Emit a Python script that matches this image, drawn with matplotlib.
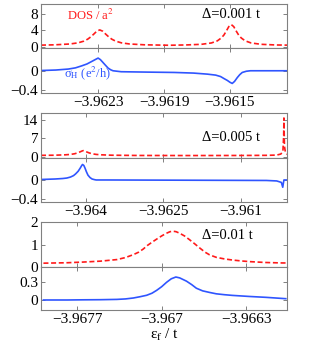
import matplotlib
matplotlib.use('Agg')
import matplotlib.pyplot as plt

plt.rcParams.update({
    'font.family': 'Liberation Serif',
    'mathtext.fontset': 'stix',
    'font.size': 11,
    'xtick.direction': 'in',
    'ytick.direction': 'in',
})

RED = "#ff1a1a"
BLUE = "#2f55ff"
FRAME = "#808080"

# ---- panel 1 : Delta = 0.001 t ----
p1_x_dos = [-3.96265, -3.962565, -3.962474, -3.962425, -3.962389, -3.962365, -3.962347,
            -3.962328, -3.96231, -3.962292, -3.962274, -3.962256, -3.962237, -3.962219,
            -3.962195, -3.962159, -3.96211, -3.962019, -3.961868, -3.961763, -3.961672,
            -3.961611, -3.961575, -3.961551, -3.961535, -3.96152, -3.961505, -3.96149,
            -3.961475, -3.96146, -3.961445, -3.961429, -3.961405, -3.961369, -3.961308,
            -3.961217, -3.96115]
p1_dos = [0.4, 0.48, 0.68, 0.95, 1.37, 1.86, 2.4,
          3.09, 3.79, 4.1, 3.79, 3.09, 2.4, 1.86,
          1.37, 0.95, 0.68, 0.48, 0.37, 0.45, 0.6,
          0.93, 1.44, 2.14, 2.85, 3.84, 4.9, 5.4,
          4.9, 3.84, 2.85, 2.14, 1.44, 0.93, 0.6,
          0.44, 0.4]
p1_x_sig = [-3.96265, -3.96256, -3.962484, -3.96244, -3.962403, -3.96237, -3.962342,
            -3.96232, -3.962302, -3.962288, -3.962272, -3.962256, -3.962241, -3.962225,
            -3.962211, -3.962161, -3.962, -3.961838, -3.96172, -3.961635, -3.961585,
            -3.961555, -3.961535, -3.961514, -3.961497, -3.961484, -3.96147, -3.961453,
            -3.961438, -3.961423, -3.961398, -3.961373, -3.96115]
p1_sig = [0.005, 0.015, 0.035, 0.06, 0.1, 0.14, 0.19,
          0.23, 0.262, 0.23, 0.17, 0.11, 0.055, 0.02,
          0.0, -0.02, -0.028, -0.035, -0.048, -0.07, -0.09,
          -0.12, -0.16, -0.2, -0.24, -0.262, -0.22, -0.14,
          -0.08, -0.035, -0.01, 0.0, 0.0]
p1_xlim = (-3.96265, -3.96115)
p1_xticks = [-3.9623, -3.9619, -3.9615]

# ---- panel 2 : Delta = 0.005 t ----
p2_x_dos = [-3.96487, -3.9646, -3.9644, -3.9643, -3.96422, -3.96416, -3.96411,
            -3.96407, -3.96405, -3.96403, -3.96399, -3.96394, -3.96388, -3.9638,
            -3.9637, -3.9635, -3.963, -3.962, -3.961, -3.9605, -3.9603,
            -3.96022, -3.96018, -3.960165, -3.96016, -3.960155, -3.96015, -3.96013,
            -3.9601]
p2_dos = [0.5, 0.55, 0.7, 0.85, 1.1, 1.45, 1.85,
          2.2, 2.3, 2.2, 1.85, 1.45, 1.1, 0.85,
          0.7, 0.55, 0.45, 0.42, 0.45, 0.5, 0.6,
          1.0, 2.0, 8.0, 14.8, 9.0, 4.0, 1.5,
          0.9]
p2_x_sig = [-3.96487, -3.9646, -3.96445, -3.96437, -3.9643, -3.96424, -3.9642,
            -3.96415, -3.96411, -3.96408, -3.964065, -3.96404, -3.964015, -3.96399,
            -3.96396, -3.96392, -3.96388, -3.96383, -3.9638, -3.9636, -3.962,
            -3.9605, -3.9603, -3.96021, -3.960183, -3.96017, -3.96016, -3.9601]
p2_sig = [0.01, 0.02, 0.03, 0.04, 0.06, 0.09, 0.125,
          0.18, 0.245, 0.3, 0.32, 0.3, 0.24, 0.17,
          0.1, 0.05, 0.02, 0.006, 0.0, 0.0, -0.005,
          -0.01, -0.02, -0.05, -0.15, -0.06, 0.0, 0.0]
p2_xlim = (-3.96487, -3.96010)
p2_xticks = [-3.964, -3.9625, -3.961]

# ---- panel 3 : Delta = 0.01 t ----
p3_x_dos = [-3.96798, -3.96778, -3.96765, -3.967508, -3.967371, -3.9673, -3.967234,
            -3.96719, -3.967152, -3.96712, -3.96708, -3.967041, -3.967, -3.96696,
            -3.96693, -3.966904, -3.96688, -3.96685, -3.96681, -3.96677, -3.96673,
            -3.966685, -3.96664, -3.966602, -3.966547, -3.96648, -3.966413, -3.96634,
            -3.966273, -3.966135, -3.966, -3.96596]
p3_dos = [0.17, 0.19, 0.22, 0.26, 0.33, 0.42, 0.55,
          0.66, 0.8, 0.95, 1.1, 1.24, 1.38, 1.5,
          1.57, 1.59, 1.57, 1.5, 1.38, 1.22, 1.05,
          0.85, 0.66, 0.54, 0.43, 0.36, 0.31, 0.27,
          0.24, 0.2, 0.18, 0.18]
p3_x_sig = [-3.96798, -3.96778, -3.96765, -3.967508, -3.967371, -3.9673, -3.967234,
            -3.96718, -3.967124, -3.96708, -3.967041, -3.967, -3.966959, -3.96692,
            -3.966882, -3.96685, -3.966794, -3.96675, -3.966712, -3.96666, -3.966602,
            -3.966547, -3.96648, -3.966413, -3.966273, -3.966135, -3.96597]
p3_sig = [0.0, 0.0, 0.003, 0.005, 0.01, 0.018, 0.034,
          0.055, 0.08, 0.115, 0.164, 0.225, 0.3, 0.36,
          0.39, 0.375, 0.32, 0.26, 0.2, 0.155, 0.128,
          0.105, 0.09, 0.078, 0.06, 0.045, 0.022]
p3_xlim = (-3.968, -3.96596)
p3_xticks = [-3.9677, -3.967, -3.9663]


def lab(v):
    return f"{v:g}".replace('-', '\u2212')


def style_ax(ax):
    for s in ax.spines.values():
        s.set_color(FRAME)
        s.set_linewidth(0.8)
    ax.tick_params(which='both', top=True, right=True, color=FRAME,
                   length=3, width=0.7, pad=2)


fig = plt.figure(figsize=(3.18, 3.51), dpi=100)
L, W = 0.129, 0.7736

panels = [
    (p1_x_dos, p1_dos, p1_x_sig, p1_sig, p1_xlim, p1_xticks,
     (-0.3, 10.4), [0, 4, 8], (-0.46, 0.47), [-0.4, 0],
     (0.735, 0.8632, 0.9886), "\u0394=0.001 t", 0.77),
    (p2_x_dos, p2_dos, p2_x_sig, p2_sig, p2_xlim, p2_xticks,
     (-0.5, 16.7), [0, 7, 14], (-0.455, 0.455), [-0.4, 0],
     (0.4245, 0.550, 0.678), "\u0394=0.005 t", 0.45),
    (p3_x_dos, p3_dos, p3_x_sig, p3_sig, p3_xlim, p3_xticks,
     (0, 2.0), [0, 1, 2], (-0.17, 0.56), [0, 0.3],
     (0.1168, 0.2393, 0.3675), "\u0394=0.01 t", 0.71),
]

for i, (xd, yd, xs, ys, xlim, xt, dlim, dt, slim, st, (b, m, t), label, ly) in enumerate(panels):
    ax_d = fig.add_axes([L, m, W, t - m])
    ax_s = fig.add_axes([L, b, W, m - b])

    ax_d.plot(xd, yd, color=RED, lw=1.2, dashes=(3, 1.6))
    ax_s.plot(xs, ys, color=BLUE, lw=1.2)

    for ax in (ax_d, ax_s):
        ax.set_xlim(*xlim)
        ax.set_xticks(xt)
        style_ax(ax)
    ax_d.set_xticklabels([])
    ax_s.set_xticklabels([lab(v) for v in xt])

    ax_d.set_ylim(*dlim)
    ax_d.set_yticks(dt)
    ax_d.set_yticklabels([lab(v) for v in dt])
    ax_s.set_ylim(*slim)
    ax_s.set_yticks(st)
    ax_s.set_yticklabels([lab(v) for v in st])

    ax_d.text(0.655, ly, label, transform=ax_d.transAxes,
              fontsize=10.5, va='center', ha='left')

    if i == 0:
        ax_d.text(0.105, 0.75, "DOS / a$^{2}$", transform=ax_d.transAxes,
                  color=RED, fontsize=9, va='center')
        ax_s.text(0.095, 0.36, "\u03c3$_{\\rm H}$ (e$^{2}$/h)", transform=ax_s.transAxes,
                  color=BLUE, fontsize=9, va='baseline')

    if i == 2:
        ax_s.set_xlabel("\u03b5$_{\\rm f}$ / t", labelpad=1)

plt.savefig("out.png", dpi=100)
